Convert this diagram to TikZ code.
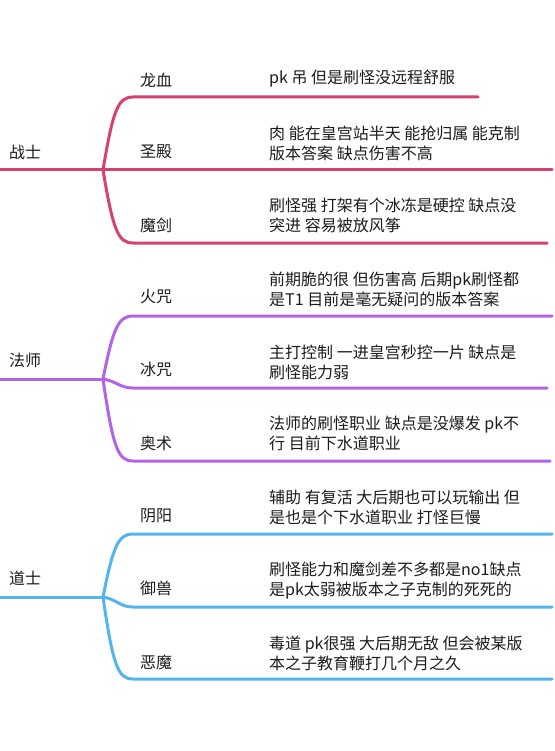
\documentclass[tikz,border=0pt]{standalone}
\usepackage{fontspec}
\setmainfont{Noto Sans CJK SC}
\definecolor{warc}{RGB}{214,66,112}
\definecolor{magc}{RGB}{178,100,232}
\definecolor{taoc}{RGB}{84,180,240}
\definecolor{txt}{RGB}{28,28,28}
\begin{document}
\begin{tikzpicture}[x=1pt,y=-1pt,
  lbl/.style={anchor=west,inner sep=0pt,font=\fontsize{16}{20}\selectfont,text=txt},
  desc/.style={anchor=west,inner sep=0pt,align=left,font=\fontsize{16}{20}\selectfont,text=txt},
  warline/.style={draw=warc,line width=3pt,line cap=round},
  magline/.style={draw=magc,line width=3pt,line cap=round},
  taoline/.style={draw=taoc,line width=3pt,line cap=round}]
\useasboundingbox[fill=white] (0,0) rectangle (554,751);

% ---------- 战士 ----------
\coordinate (w0) at (-2,170);
\coordinate (wb) at (103,170);
\coordinate (w1s) at (133,97);  \coordinate (w1e) at (478,97);
\coordinate (w2e) at (552,170);
\coordinate (w3s) at (133,243); \coordinate (w3e) at (547,243);
\draw[warline] (w0) -- (wb);
\draw[warline] (wb) .. controls (113,110) and (118,97) .. (w1s) -- (w1e);
\draw[warline] (wb) -- (w2e);
\draw[warline] (wb) .. controls (113,230) and (118,243) .. (w3s) -- (w3e);
\node[lbl] (wn) at (9,152) {战士};
\node[lbl] (w1) at (140,80) {龙血};
\node[lbl] (w2) at (140,152) {圣殿};
\node[lbl] (w3) at (140,225) {魔剑};
\node[desc] (w1t) at (269,79) {pk 吊 但是刷怪没远程舒服};
\node[desc] (w2t) at (269,143) {肉 能在皇宫站半天 能抢归属 能克制\\版本答案 缺点伤害不高};
\node[desc] (w3t) at (269,215.5) {刷怪强 打架有个冰冻是硬控 缺点没\\突进 容易被放风筝};

% ---------- 法师 ----------
\coordinate (m0) at (-2,379);
\coordinate (mb) at (103,379);
\coordinate (m1s) at (133,316); \coordinate (m1e) at (552,316);
\coordinate (m2s) at (133,388); \coordinate (m2e) at (547,388);
\coordinate (m3s) at (133,461); \coordinate (m3e) at (550,461);
\draw[magline] (m0) -- (mb);
\draw[magline] (mb) .. controls (113,329) and (118,316) .. (m1s) -- (m1e);
\draw[magline] (mb) .. controls (116,381) and (120,388) .. (m2s) -- (m2e);
\draw[magline] (mb) .. controls (113,448) and (118,461) .. (m3s) -- (m3e);
\node[lbl] (mn) at (9,360) {法师};
\node[lbl] (m1) at (140,297) {火咒};
\node[lbl] (m2) at (140,369) {冰咒};
\node[lbl] (m3) at (140,443) {奥术};
\node[desc] (m1t) at (269,289) {前期脆的很 但伤害高 后期pk刷怪都\\是T1 目前是毫无疑问的版本答案};
\node[desc] (m2t) at (269,362.5) {主打控制 一进皇宫秒控一片 缺点是\\刷怪能力弱};
\node[desc] (m3t) at (269,433.5) {法师的刷怪职业 缺点是没爆发 pk不\\行 目前下水道职业};

% ---------- 道士 ----------
\coordinate (t0) at (-2,597);
\coordinate (tb) at (103,597);
\coordinate (t1s) at (133,534); \coordinate (t1e) at (552,534);
\coordinate (t2s) at (133,607); \coordinate (t2e) at (552,607);
\coordinate (t3s) at (133,679); \coordinate (t3e) at (552,679);
\draw[taoline] (t0) -- (tb);
\draw[taoline] (tb) .. controls (113,547) and (118,534) .. (t1s) -- (t1e);
\draw[taoline] (tb) .. controls (116,599) and (120,607) .. (t2s) -- (t2e);
\draw[taoline] (tb) .. controls (113,666) and (118,679) .. (t3s) -- (t3e);
\node[lbl] (tn) at (9,578) {道士};
\node[lbl] (t1) at (140,516) {阴阳};
\node[lbl] (t2) at (140,588) {御兽};
\node[lbl] (t3) at (140,662) {恶魔};
\node[desc] (t1t) at (269,507.5) {辅助 有复活 大后期也可以玩输出 但\\是也是个下水道职业 打怪巨慢};
\node[desc] (t2t) at (269,580.5) {刷怪能力和魔剑差不多都是no1缺点\\是pk太弱被版本之子克制的死死的};
\node[desc] (t3t) at (269,653) {毒道 pk很强 大后期无敌 但会被某版\\本之子教育鞭打几个月之久};
\end{tikzpicture}
\end{document}
